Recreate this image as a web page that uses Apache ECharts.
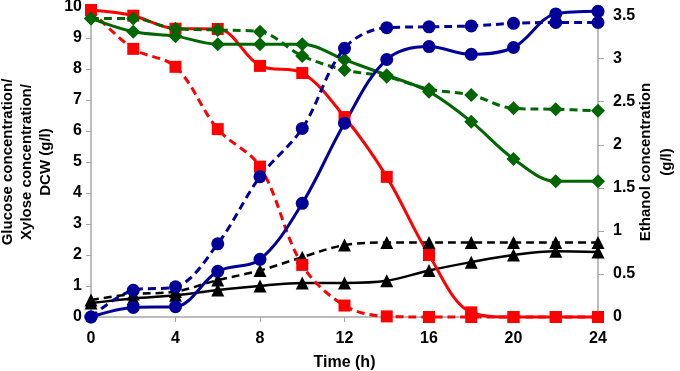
<!DOCTYPE html>
<html>
<head>
<meta charset="utf-8">
<script src="https://cdn.jsdelivr.net/npm/echarts@6/dist/echarts.min.js"></script>
<style>
  html, body { margin: 0; padding: 0; background: #fff; }
  #chart { width: 680px; height: 371px; }
</style>
</head>
<body>
<div id="chart"></div>
<script>
var time = [0, 2, 4, 6, 8, 10, 12, 14, 16, 18, 20, 22, 24];

// left axis, g/l
var glucoseSolid = [9.9, 9.72, 9.3, 9.29, 8.1, 7.87, 6.45, 4.52, 2.0, 0.15, 0, 0, 0];
var glucoseDash  = [9.9, 8.65, 8.07, 6.06, 4.85, 1.68, 0.37, 0.02, 0, 0, 0, 0, 0];
var xyloseSolid  = [9.63, 9.2, 9.06, 8.8, 8.8, 8.8, 8.3, 7.8, 7.27, 6.3, 5.1, 4.38, 4.38];
var xyloseDash   = [9.63, 9.63, 9.3, 9.26, 9.2, 8.42, 7.97, 7.75, 7.35, 7.16, 6.73, 6.7, 6.65];
var dcwSolid     = [0.45, 0.6, 0.7, 0.87, 1.0, 1.1, 1.1, 1.17, 1.5, 1.77, 2.0, 2.12, 2.1];
var dcwDash      = [0.55, 0.74, 0.82, 1.19, 1.5, 1.93, 2.32, 2.4, 2.4, 2.4, 2.4, 2.4, 2.4];
// right axis, g/l
var ethanolSolid = [0, 0.11, 0.12, 0.53, 0.67, 1.32, 2.25, 2.99, 3.14, 3.05, 3.13, 3.52, 3.55];
var ethanolDash  = [0, 0.31, 0.35, 0.85, 1.63, 2.19, 3.12, 3.36, 3.37, 3.38, 3.41, 3.42, 3.42];

var chart = echarts.init(document.getElementById('chart'));

function pairs(arr) {
	return arr.map(function (v, i) { return [time[i], v]; });
}

function line(data, color, symbol, size, dashed, yIdx, width) {
	return {
		type: 'line',
		yAxisIndex: yIdx,
		data: pairs(data),
		smooth: 0.35,
		clip: false,
		symbol: symbol,
		symbolSize: size,
		itemStyle: { color: color },
		lineStyle: {
			color: color,
			width: width || 3,
			type: dashed ? [8, 5] : 'solid'
		}
	};
}

var labelStyle = { color: '#000', fontSize: 16, fontWeight: 'bold', fontFamily: 'Liberation Sans, Arial' };
var titleStyle = { color: '#000', fontSize: 15, fontWeight: 'bold', fontFamily: 'Liberation Sans, Arial' };
var axisGray = { lineStyle: { color: '#a6a6a6', width: 1.5 } };

chart.setOption({
	animation: false,
	backgroundColor: '#fff',
	grid: { left: 91, right: 82, top: 7, bottom: 54, containLabel: false, outerBoundsMode: 'none' },
	xAxis: {
		type: 'value',
		min: 0, max: 24, interval: 4,
		name: 'Time (h)',
		nameLocation: 'middle',
		nameGap: 38,
		nameMoveOverlap: false,
		nameTextStyle: labelStyle,
		axisLine: axisGray,
		axisTick: { show: true, length: 5, lineStyle: { color: '#a6a6a6' } },
		axisLabel: Object.assign({ margin: 14 }, labelStyle),
		splitLine: { show: false }
	},
	yAxis: [
		{
			type: 'value',
			min: 0, max: 10, interval: 1,
			name: 'Glucose concentration/\nXylose concentration/\nDCW (g/l)',
			nameLocation: 'middle',
			nameGap: 36,
			nameRotate: 90,
			nameMoveOverlap: false,
			nameTextStyle: Object.assign({ lineHeight: 19 }, titleStyle),
			axisLine: Object.assign({ show: true }, axisGray),
			axisTick: { show: true, length: 5, lineStyle: { color: '#a6a6a6' } },
			axisLabel: Object.assign({ margin: 9 }, labelStyle),
			splitLine: { show: false }
		},
		{
			type: 'value',
			position: 'right',
			min: 0, max: 3.6, interval: 0.5,
			name: 'Ethanol concentration\n(g/l)',
			nameLocation: 'middle',
			nameGap: 37,
			nameRotate: 90,
			nameMoveOverlap: false,
			nameTextStyle: Object.assign({ lineHeight: 21 }, titleStyle),
			axisLine: Object.assign({ show: true }, axisGray),
			axisTick: { show: true, length: 6, lineStyle: { color: '#a6a6a6' } },
			axisLabel: Object.assign({ margin: 15, showMaxLabel: false }, labelStyle),
			splitLine: { show: false }
		}
	],
	series: [
		line(dcwDash, '#000', 'triangle', 13, true, 0, 2.5),
		line(dcwSolid, '#000', 'triangle', 13, false, 0, 2.5),
		line(glucoseDash, '#ff0000', 'rect', 12, true, 0),
		line(glucoseSolid, '#ff0000', 'rect', 12, false, 0),
		line(xyloseDash, '#006600', 'diamond', 14, true, 0),
		line(xyloseSolid, '#006600', 'diamond', 14, false, 0),
		line(ethanolDash, '#000099', 'circle', 13, true, 1),
		line(ethanolSolid, '#000099', 'circle', 13, false, 1)
	]
});
</script>
</body>
</html>
